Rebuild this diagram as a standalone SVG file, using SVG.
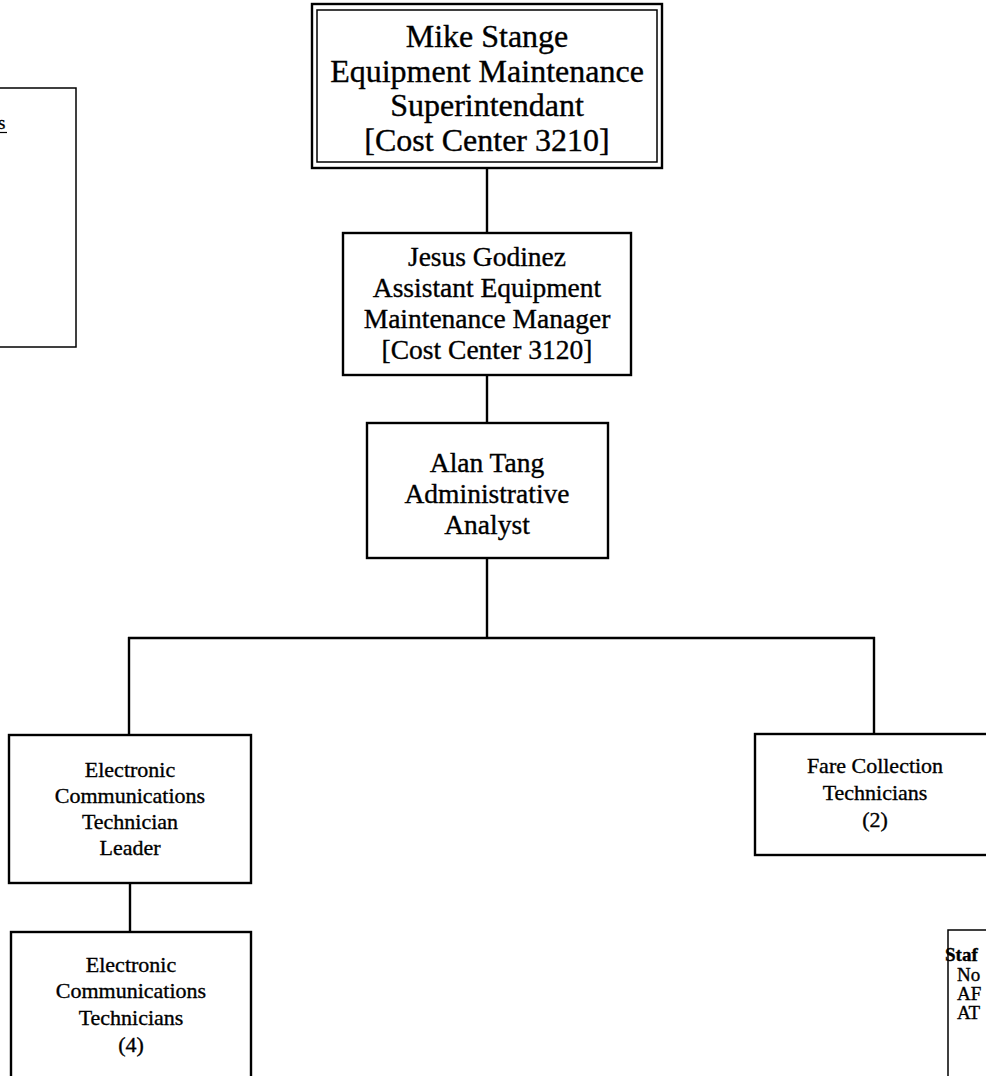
<svg xmlns="http://www.w3.org/2000/svg" width="986" height="1076" viewBox="0 0 986 1076">
<style>
.box{fill:#fff;stroke:#000;stroke-width:2.4}
.thin{fill:none;stroke:#000;stroke-width:1.5}
.conn{fill:none;stroke:#000;stroke-width:2.4}
text{font-family:"Liberation Serif","DejaVu Serif",serif;fill:#000;stroke:#000;stroke-width:0.35;text-anchor:middle}
.t1{font-size:32px}
.t2{font-size:27.5px}
.t3{font-size:22px}
.t4{font-size:19px;text-anchor:start}
</style>
<rect width="986" height="1076" fill="#fff"/>
<g id="connectors">
<line class="conn" x1="487" y1="168" x2="487" y2="233"/>
<line class="conn" x1="487" y1="375" x2="487" y2="423"/>
<line class="conn" x1="487" y1="558" x2="487" y2="638"/>
<line class="conn" x1="128" y1="638" x2="875" y2="638"/>
<line class="conn" x1="129" y1="637" x2="129" y2="735"/>
<line class="conn" x1="874" y1="637" x2="874" y2="734"/>
<line class="conn" x1="130" y1="883" x2="130" y2="932"/>
</g>
<g id="left-partial">
<rect class="thin" x="-10" y="88" width="86" height="259"/>
<text class="t4" x="-2" y="129" font-size="20px">s</text>
<line x1="0" y1="132.5" x2="7" y2="132.5" stroke="#000" stroke-width="1.2"/>
</g>
<g id="mike-stange">
<rect class="box" x="312" y="4" width="350" height="164" stroke-width="2"/>
<rect class="thin" x="317" y="10" width="340" height="152"/>
<text class="t1" x="487" y="47">Mike Stange</text>
<text class="t1" x="487" y="82">Equipment Maintenance</text>
<text class="t1" x="487" y="116">Superintendant</text>
<text class="t1" x="487" y="151">[Cost Center 3210]</text>
</g>
<g id="jesus-godinez">
<rect class="box" x="343" y="233" width="288" height="142"/>
<text class="t2" x="487" y="266">Jesus Godinez</text>
<text class="t2" x="487" y="297">Assistant Equipment</text>
<text class="t2" x="487" y="328">Maintenance Manager</text>
<text class="t2" x="487" y="359">[Cost Center 3120]</text>
</g>
<g id="alan-tang">
<rect class="box" x="367" y="423" width="241" height="135"/>
<text class="t2" x="487" y="472">Alan Tang</text>
<text class="t2" x="487" y="503">Administrative</text>
<text class="t2" x="487" y="534">Analyst</text>
</g>
<g id="ect-leader">
<rect class="box" x="9" y="735" width="242" height="148"/>
<text class="t3" x="130" y="777">Electronic</text>
<text class="t3" x="130" y="803">Communications</text>
<text class="t3" x="130" y="829">Technician</text>
<text class="t3" x="130" y="855">Leader</text>
</g>
<g id="ect-technicians">
<rect class="box" x="11" y="932" width="240" height="160"/>
<text class="t3" x="131" y="972">Electronic</text>
<text class="t3" x="131" y="998">Communications</text>
<text class="t3" x="131" y="1025">Technicians</text>
<text class="t3" x="131" y="1052">(4)</text>
</g>
<g id="fare-collection">
<rect class="box" x="755" y="734" width="250" height="121"/>
<text class="t3" x="875" y="773">Fare Collection</text>
<text class="t3" x="875" y="800">Technicians</text>
<text class="t3" x="875" y="827">(2)</text>
</g>
<g id="staff">
<rect class="thin" x="948" y="930" width="60" height="160"/>
<text class="t4" x="945" y="961" font-weight="bold">Staf</text>
<text class="t4" x="957" y="981">No</text>
<text class="t4" x="957" y="1000">AF</text>
<text class="t4" x="957" y="1019">AT</text>
</g>
</svg>
